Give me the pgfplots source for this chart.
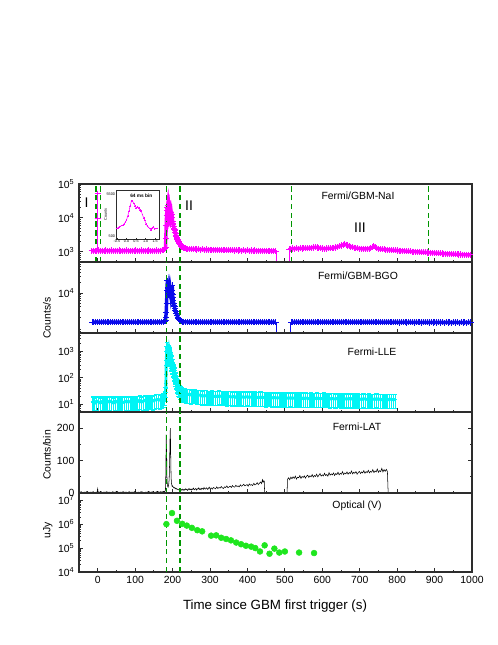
\documentclass[border=0pt]{standalone}
\usepackage{fontspec}
\setmainfont{Liberation Sans}
\usepackage{pgfplots}
\usepackage{pgfplotstable}
\pgfplotsset{compat=1.18}
\definecolor{naic}{RGB}{255,0,255}
\definecolor{bgoc}{RGB}{10,10,235}
\definecolor{llec}{RGB}{0,245,245}
\definecolor{optc}{RGB}{30,230,30}
\definecolor{vlc}{RGB}{0,150,0}
\definecolor{axc}{RGB}{45,45,45}

\pgfplotstableread{
t y
-16 1060
-11 1085
-6 1045
-2 1075
3 1095
7 1055
12 1080
17 1050
22 1090
27 1065
32 1075
37 1095
42 1055
47 1085
52 1070
57 1090
62 1050
67 1080
72 1065
77 1095
82 1075
87 1045
92 1085
97 1070
102 1090
107 1055
112 1080
117 1095
122 1060
127 1085
132 1070
137 1095
142 1050
147 1080
152 1065
157 1090
162 1075
167 1085
172 1110
176 1150
179 1220
181 1300
182 2500
183 6000
184 12000
185 17000
186 20000
187 24000
188 16000
189 19000
190 14000
191 17000
192 13000
193 15000
194 12000
195 14000
196 11000
197 12500
198 10000
199 10500
200 8000
201 7000
202 6200
203 5600
204 5000
205 4600
206 4200
207 3800
208 3400
209 3100
210 2900
211 2700
212 2500
213 2350
214 2200
215 2100
216 1950
217 1850
218 1750
219 1700
220 1600
222 1500
224 1420
226 1380
228 1340
231 1300
234 1260
237 1240
240 1220
245 1200
250 1215
255 1185
260 1200
265 1170
270 1190
275 1160
280 1180
285 1150
290 1170
295 1140
300 1160
305 1130
310 1150
315 1125
320 1145
325 1120
330 1135
335 1110
340 1130
345 1105
350 1125
355 1100
360 1120
365 1095
370 1115
375 1090
380 1110
385 1085
390 1105
395 1080
400 1100
405 1075
410 1095
415 1070
420 1090
425 1065
430 1085
435 1060
440 1080
445 1055
450 1075
455 1050
460 1070
465 1045
470 1065
475 1050
490 nan
512 1180
516 1220
521 1250
526 1230
531 1260
536 1240
541 1270
546 1250
551 1280
556 1260
561 1290
566 1280
571 1310
576 1340
581 1360
586 1340
591 1300
596 1280
601 1255
606 1240
611 1250
616 1270
621 1265
626 1290
631 1310
636 1340
641 1400
646 1470
651 1540
656 1610
660 1660
664 1610
668 1540
672 1470
676 1420
680 1370
685 1330
690 1290
695 1270
700 1245
705 1230
710 1215
715 1225
720 1230
725 1245
730 1280
734 1350
738 1460
742 1350
746 1270
750 1230
755 1200
760 1185
765 1175
770 1160
775 1150
780 1135
785 1125
790 1110
795 1105
800 1090
805 1085
810 1070
815 1065
820 1050
825 1045
830 1030
835 1025
840 1015
845 1010
850 1000
855 990
860 985
865 975
870 965
875 960
880 950
885 940
890 935
895 925
900 920
905 910
910 905
915 895
920 890
925 885
930 875
935 870
940 865
945 860
950 850
955 845
960 840
965 835
970 830
975 825
980 820
985 815
990 810
995 805
}\naidata

\pgfplotstableread{
t y
-15 1450
-10 1430
-5 1470
0 1440
5 1460
10 1425
15 1475
20 1445
25 1455
30 1430
35 1470
40 1440
45 1465
50 1435
55 1460
60 1445
65 1475
70 1430
75 1455
80 1440
85 1470
90 1435
95 1460
100 1450
105 1425
110 1470
115 1440
120 1460
125 1435
130 1475
135 1445
140 1455
145 1430
150 1465
155 1440
160 1470
165 1450
170 1460
175 1480
179 1520
181 1600
182 2000
183 2800
184 5000
185 12000
186 23000
187 15000
188 11000
189 14000
190 9000
191 12500
192 10500
193 9500
194 13000
195 11000
196 8500
197 10000
198 12000
199 17000
200 9000
201 7500
202 6000
203 5000
204 4500
205 4000
206 3600
207 3200
208 2900
210 2600
212 2300
214 2000
216 1800
218 1700
220 1620
223 1550
226 1500
230 1480
235 1455
240 1470
245 1440
250 1460
255 1435
260 1470
265 1445
270 1455
275 1430
280 1465
285 1440
290 1460
295 1450
300 1430
305 1470
310 1440
315 1455
320 1435
325 1465
330 1445
335 1460
340 1430
345 1470
350 1440
355 1455
360 1435
365 1465
370 1445
375 1450
380 1430
385 1470
390 1440
395 1460
400 1435
405 1465
410 1440
415 1455
420 1430
425 1460
430 1445
435 1470
440 1435
445 1455
450 1440
455 1465
460 1430
465 1455
470 1440
475 1450
495 nan
517 1440
521 1420
526 1460
531 1435
536 1450
541 1425
546 1465
551 1440
556 1455
561 1430
566 1460
571 1440
576 1450
581 1425
586 1460
591 1435
596 1455
601 1430
606 1465
611 1440
616 1450
621 1425
626 1460
631 1435
636 1455
641 1440
646 1460
651 1430
656 1450
661 1465
666 1440
671 1455
676 1430
681 1450
686 1440
691 1460
696 1425
701 1450
706 1435
711 1455
716 1430
721 1450
726 1440
731 1460
736 1425
741 1450
746 1435
751 1455
756 1430
761 1445
766 1420
771 1450
776 1435
781 1445
786 1420
791 1450
796 1430
801 1440
806 1415
811 1445
816 1425
821 1440
826 1415
831 1445
836 1425
841 1435
846 1410
851 1440
856 1420
861 1435
866 1410
871 1440
876 1420
881 1430
886 1405
891 1435
896 1415
901 1430
906 1405
911 1435
916 1415
921 1425
926 1400
931 1430
936 1410
941 1425
946 1400
951 1430
956 1410
961 1420
966 1400
971 1425
976 1405
981 1420
986 1400
991 1425
996 1405
}\bgodata

\pgfplotstableread{
t y
-13 12
-8 11
-3 13
2 12
7 11
12 12.5
17 13
22 11.5
27 12
32 13
37 12
42 11
47 13
52 12
57 12.5
62 13
67 11.5
72 12
77 13
82 12
87 12.5
92 13
97 12
102 13
107 12.5
112 14
117 12
122 13
127 14
132 13
137 13.5
142 14
147 13
152 14
157 14.5
162 15
167 14
172 15
176 16
179 19
181 28
182 40
183 300
184 1000
185 1400
186 800
187 1200
188 600
189 1100
190 700
191 1000
192 800
193 600
194 900
195 500
196 600
197 400
198 450
199 300
200 320
201 250
202 230
203 200
204 180
205 160
206 140
207 120
208 100
209 90
210 80
211 70
212 62
213 56
214 50
216 44
218 38
220 34
222 31
225 28
228 26
232 25
236 24
240 23
245 24
250 22
255 23
260 22.5
265 21
270 22
275 21.5
280 20
285 21
290 20.5
295 19.5
300 20
305 21
310 19.5
315 20
320 19
325 20.5
330 19.5
335 19
340 20
345 18.5
350 19.5
355 19
360 18.5
365 19.5
370 18
375 19
380 18.5
385 19
390 18
395 18.5
400 19
405 18
410 18.5
415 17.5
420 18.5
425 18
430 17.5
435 18.5
440 17.5
445 18
450 17
455 18
460 17.5
465 17
470 18
475 17
480 17.5
485 17
490 17.5
495 16.5
500 17.5
505 17
510 16.5
515 17.5
520 16.5
525 17
530 16.5
535 17.5
540 16.5
545 17
550 16
555 17
560 16.5
565 16
570 17
575 16.5
580 16
585 17
590 16
595 16.5
600 16
605 17
610 16
615 16.5
620 15.5
625 16.5
630 16
635 15.5
640 16.5
645 16
650 15.5
655 16.5
660 15.5
665 16
670 15.5
675 16.5
680 15.5
685 16
690 15
695 16
700 15.5
705 15
710 16
715 15.5
720 15
725 16
730 15
735 15.5
740 15
745 16
750 15
755 15.5
760 14.5
765 15.5
770 15
775 14.5
780 15.5
785 15
790 14.5
795 15
}\lledata

\pgfplotstableread{
t y
-48 2
-44 4
-40 1
-36 3
-32 2
-28 5
-24 1
-20 3
-16 2
-12 4
-8 1
-4 3
-1 2
0 12
1 3
4 2
8 5
12 1
16 3
20 2
24 4
28 2
32 3
36 1
40 4
44 2
48 3
52 5
56 1
60 3
64 2
68 4
72 2
76 3
80 1
84 4
88 2
92 3
96 2
100 5
104 1
108 3
112 2
116 4
120 3
124 1
128 3
132 2
136 5
140 2
144 3
148 4
152 2
156 3
160 5
164 2
168 4
172 3
176 5
179 4
181 8
182 60
183 180
184 140
185 50
186 25
187 20
188 18
189 22
190 30
191 45
192 90
193 160
194 200
195 120
196 50
197 30
198 25
199 20
200 22
202 18
204 15
206 17
208 13
210 14
212 11
214 12
216 10
218 9
220 11
222 7
224 10
226 12
228 8
230 11
232 9
234 13
236 10
238 12
240 8
242 11
244 14
246 10
248 12
250 9
252 13
254 11
256 15
258 10
260 12
262 14
264 9
266 13
268 12
270 16
272 11
274 13
276 10
278 15
280 14
282 11
284 17
286 13
288 12
290 16
292 14
294 11
296 15
298 18
300 13
303 16
306 12
309 17
312 15
315 13
318 19
321 14
324 17
327 15
330 20
333 16
336 14
339 19
342 17
345 22
348 16
351 19
354 21
357 17
360 23
363 19
366 18
369 24
372 20
375 22
378 19
381 25
384 21
387 23
390 27
393 22
396 24
399 26
402 21
405 28
408 24
411 26
414 23
417 30
420 25
423 27
426 32
429 26
432 30
435 34
438 29
440 41
442 33
444 38
445 36
446 0
506 0
507 42
510 47
513 41
516 49
519 44
522 50
525 45
528 52
531 43
534 49
537 47
540 54
543 45
546 51
549 48
552 53
555 46
558 52
561 55
564 48
567 53
570 50
573 57
576 49
579 54
582 51
585 58
588 50
591 55
594 60
597 52
600 56
603 53
606 61
609 54
612 57
615 52
618 63
621 55
624 59
627 56
630 62
633 54
636 60
639 57
642 64
645 56
648 61
651 58
654 66
657 57
660 62
663 59
666 65
669 58
672 63
675 60
678 68
681 59
684 64
687 61
690 66
693 58
696 63
699 67
702 60
705 65
708 62
711 69
714 61
717 66
720 63
723 70
726 62
729 67
732 64
735 72
738 63
741 68
744 65
747 74
750 64
753 69
756 66
759 76
762 65
765 72
768 67
771 73
774 66
776 0
1000 0
}\latdata

\pgfplotstableread{
t y
183.5 1.0e6
198.5 2.9e6
211.8 1.38e6
226 1.03e6
238 8.7e5
251.6 7.0e5
266 5.6e5
279 5.0e5
303 3.3e5
316.5 3.4e5
330 2.7e5
343 2.4e5
356 2.1e5
370 1.7e5
383 1.45e5
396 1.25e5
410 1.15e5
421 1.0e5
433.5 7.2e4
446 1.3e5
459 5.8e4
472 9.5e4
485 6.5e4
500 7.2e4
538 6.5e4
578 6.2e4
}\optdata

\pgfplotstableread{
t y
-0.51 1480
-0.45 1550
-0.38 1650
-0.32 1700
-0.26 1800
-0.19 1850
-0.13 2000
-0.06 2200
0.00 2450
0.06 2900
0.13 3500
0.19 4100
0.26 4700
0.32 4650
0.38 4400
0.45 4100
0.51 3850
0.58 3950
0.64 3900
0.70 3650
0.77 3500
0.83 3100
0.90 2700
0.96 2400
1.02 2000
1.09 1750
1.15 1600
1.22 1450
1.28 1300
1.34 1550
1.41 1650
1.47 1400
1.54 1450
1.60 1480
}\insetdata

\pgfplotsset{
  panel/.style={
    scale only axis, width=294.75pt,
    xmin=-50, xmax=1000,
    xtick={0,100,...,1000},
    minor xtick={-50,50,...,950},
    xtick pos=bottom, ytick pos=left,
    tick align=inside,
    major tick length=3.2pt, minor tick length=1.8pt,
    axis line style={draw=axc, line width=0.9pt},
    every tick/.append style={draw=axc, line width=0.6pt},
    tick label style={font=\fontsize{7.8}{9}\selectfont, text=black},
    /pgf/number format/assume math mode=true,
    /pgf/number format/1000 sep={},
    anchor=north west,
    unbounded coords=jump,
  },
  vline/.style={draw=vlc, line width=1pt, dash pattern=on 4pt off 2.6pt},
  pmark/.style={only marks, mark=+, mark size=2.3pt, mark options={line width=0.75pt}},
}

\begin{document}
\begin{tikzpicture}
\useasboundingbox (0,0) rectangle (373.5pt,-483.75pt);

% Panel 1: GBM-NaI
\begin{axis}[panel, at={(59.25pt,-138pt)}, height=58.5pt,
  ymode=log, ymin=500, ymax=1e5,
  ytick={1000,10000,100000},
  yticklabels={10\textsuperscript{3},10\textsuperscript{4},10\textsuperscript{5}},
  minor ytick={600,700,800,900,2000,3000,4000,5000,6000,7000,8000,9000,20000,30000,40000,50000,60000,70000,80000,90000},
  xticklabel=\empty]
\addplot[naic, line width=2.6pt, no marks] table {\naidata};
\addplot[naic, pmark] table {\naidata};
\addplot[naic, line width=0.8pt] coordinates {(0,1000) (0,52000)};
\addplot[naic, pmark] coordinates {(0,52000) (0,9500)};
\addplot[naic, line width=0.7pt] coordinates {(478,1050) (478,400)};
\addplot[naic, line width=0.7pt] coordinates {(512,400) (512,1180)};
\addplot[vline] coordinates {(-5,500) (-5,1e5)};
\addplot[vline] coordinates {(7,500) (7,1e5)};
\addplot[vline] coordinates {(183,500) (183,1e5)};
\addplot[vline] coordinates {(220,500) (220,1e5)};
\addplot[vline] coordinates {(518,500) (518,1e5)};
\addplot[vline] coordinates {(884,500) (884,1e5)};
\end{axis}

% Panel 2: GBM-BGO
\begin{axis}[panel, at={(59.25pt,-196.5pt)}, height=53.25pt,
  ymode=log, ymin=700, ymax=8e4,
  ytick={10000}, yticklabels={10\textsuperscript{4}},
  minor ytick={800,900,2000,3000,4000,5000,6000,7000,8000,9000,20000,30000,40000,50000,60000,70000},
  xticklabel=\empty]
\addplot[bgoc, line width=2.6pt, no marks] table {\bgodata};
\addplot[bgoc, pmark] table {\bgodata};
\addplot[bgoc, line width=0.7pt] coordinates {(478,1450) (478,500)};
\addplot[bgoc, line width=0.7pt] coordinates {(516,500) (516,1440)};
\addplot[vline] coordinates {(183,700) (183,8e4)};
\addplot[vline] coordinates {(220,700) (220,8e4)};
\end{axis}

% Panel 3: LLE
\begin{axis}[panel, at={(59.25pt,-249.75pt)}, height=59.25pt,
  ymode=log, ymin=5, ymax=5000,
  ytick={10,100,1000},
  yticklabels={10\textsuperscript{1},10\textsuperscript{2},10\textsuperscript{3}},
  minor ytick={6,7,8,9,20,30,40,50,60,70,80,90,200,300,400,500,600,700,800,900,2000,3000,4000},
  xticklabel=\empty]
\addplot[llec, line width=2.2pt, no marks] table {\lledata};
\addplot[llec, only marks, mark=+, mark size=1.6pt, mark options={draw=llec, line width=0.8pt},
  error bars/.cd, y dir=both, y fixed relative=0.55,
  error bar style={draw=llec, line width=1pt},
  error mark options={draw=llec, rotate=90, mark size=1.6pt, line width=0.8pt}] table {\lledata};
\addplot[vline] coordinates {(183,5) (183,5000)};
\addplot[vline] coordinates {(220,5) (220,5000)};
\end{axis}

% Panel 4: LAT
\begin{axis}[panel, at={(59.25pt,-309pt)}, height=60.75pt,
  ymin=0, ymax=250, ytick={0,100,200}, minor ytick={50,150,250},
  ytick pos=both, xticklabel=\empty]
\addplot[black, line width=0.4pt] table {\latdata};
\addplot[vline] coordinates {(183,0) (183,250)};
\addplot[vline] coordinates {(220,0) (220,250)};
\end{axis}

% Panel 5: Optical
\begin{axis}[panel, at={(59.25pt,-369.75pt)}, height=59.25pt,
  ymode=log, ymin=1e4, ymax=2e7,
  ytick={1e4,1e5,1e6,1e7},
  yticklabels={10\textsuperscript{4},10\textsuperscript{5},10\textsuperscript{6},10\textsuperscript{7}},
  minor ytick={20000,30000,40000,50000,60000,70000,80000,90000,2e5,3e5,4e5,5e5,6e5,7e5,8e5,9e5,2e6,3e6,4e6,5e6,6e6,7e6,8e6,9e6,2e7}]
\addplot[optc, only marks, mark=*, mark size=2.2pt, mark options={draw=optc, fill=optc}] table {\optdata};
\addplot[vline] coordinates {(183,1e4) (183,2e7)};
\addplot[vline] coordinates {(220,1e4) (220,2e7)};
\end{axis}

% Inset
\begin{axis}[at={(87pt,-142.5pt)}, anchor=north west, scale only axis,
  width=32.25pt, height=36.75pt,
  xmin=-0.55, xmax=1.7, ymin=230, ymax=5970,
  xtick={-0.5,0,0.5,1,1.5}, xticklabels={-0.5,0.0,0.5,1.0,1.5},
  ytick={500,5500},
  tick align=inside, major tick length=1pt,
  xtick pos=bottom, ytick pos=left,
  axis line style={draw=axc, line width=0.4pt},
  every tick/.append style={draw=axc, line width=0.3pt},
  tick label style={font=\fontsize{2.8}{3}\selectfont, inner sep=0.6pt},
  /pgf/number format/assume math mode=true,
  /pgf/number format/1000 sep={},
  axis background/.style={fill=white},
  ylabel={Counts}, ylabel style={font=\fontsize{2.8}{3}\selectfont, inner sep=0pt},
  ylabel shift=-1pt]
\addplot[naic, line width=0.4pt, mark=+, mark size=0.6pt, mark options={line width=0.2pt}] table {\insetdata};
\end{axis}
\node[font=\bfseries\fontsize{3.6}{4}\selectfont] at (106pt,-146.5pt) {64 ms bin};

% Texts
\node[font=\fontsize{7.8}{9}\selectfont] at (268.5pt,-147pt) {Fermi/GBM-NaI};
\node[font=\fontsize{7.8}{9}\selectfont] at (268.5pt,-207pt) {Fermi/GBM-BGO};
\node[font=\fontsize{7.8}{9}\selectfont] at (279pt,-264pt) {Fermi-LLE};
\node[font=\fontsize{7.8}{9}\selectfont] at (267.75pt,-320.25pt) {Fermi-LAT};
\node[font=\fontsize{7.8}{9}\selectfont] at (267.75pt,-379.5pt) {Optical (V)};
\node[font=\fontsize{10.5}{12}\selectfont] at (65pt,-152.25pt) {I};
\node[font=\fontsize{10.5}{12}\selectfont] at (141.75pt,-154.5pt) {II};
\node[font=\fontsize{10.5}{12}\selectfont] at (270pt,-171pt) {III};
\node[font=\fontsize{10}{12}\selectfont] at (206.25pt,-454.5pt) {Time since GBM first trigger (s)};
\node[font=\fontsize{7.8}{9}\selectfont, rotate=90] at (35.25pt,-238.5pt) {Counts/s};
\node[font=\fontsize{7.8}{9}\selectfont, rotate=90] at (35.25pt,-341.25pt) {Counts/bin};
\node[font=\fontsize{7.8}{9}\selectfont, rotate=90] at (36pt,-397.5pt) {uJy};
\end{tikzpicture}
\end{document}
